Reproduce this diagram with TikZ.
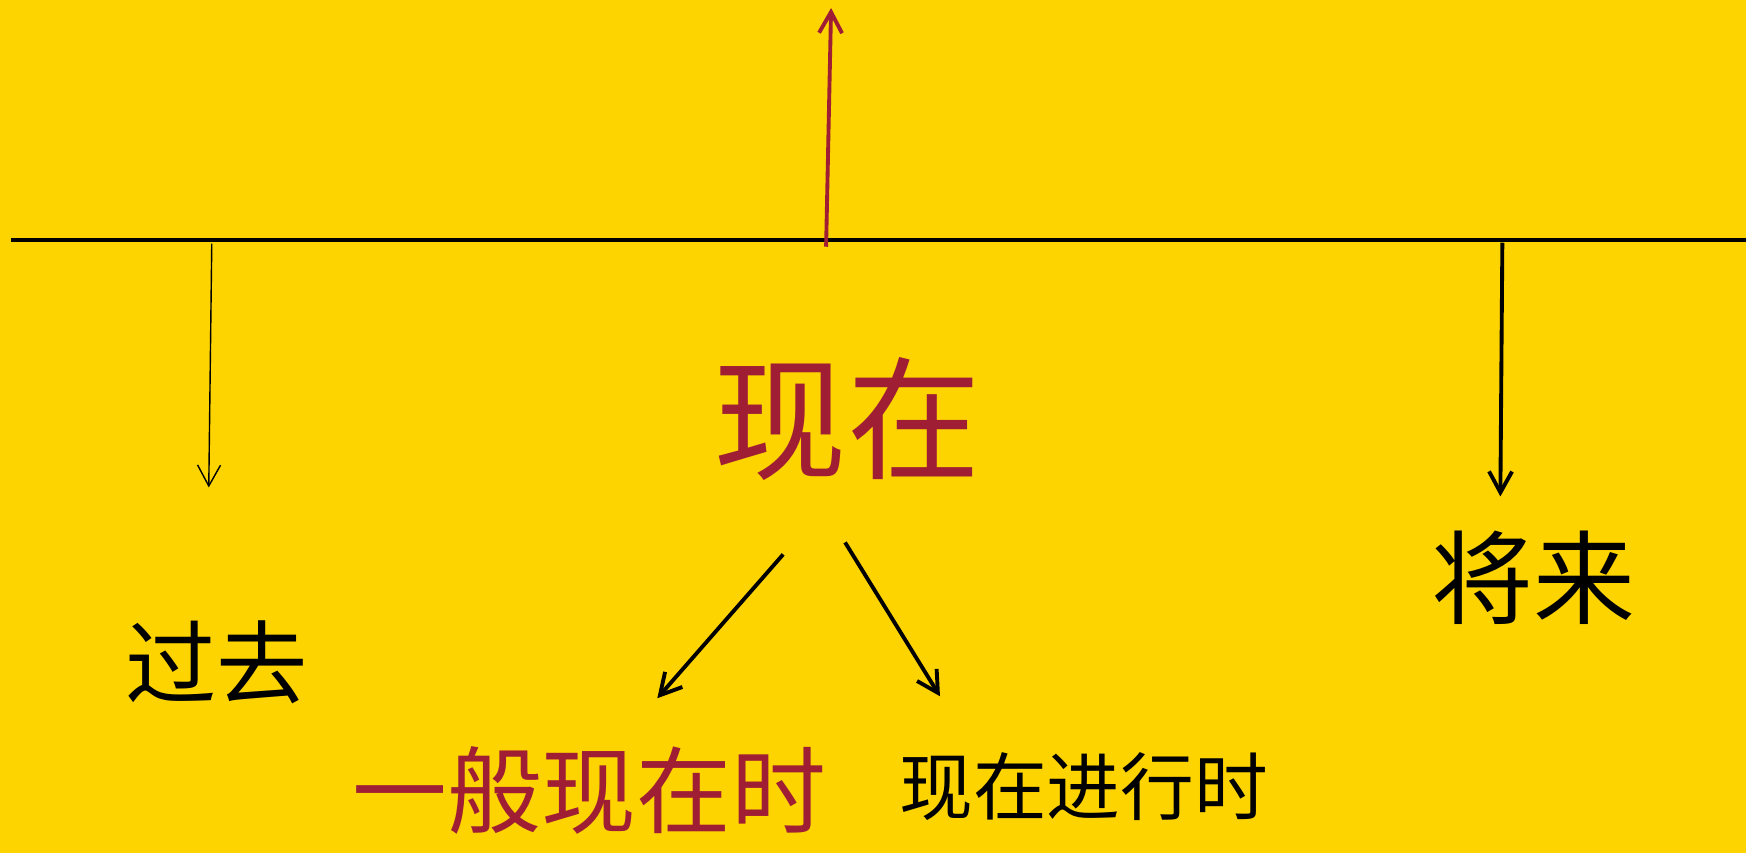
\documentclass[tikz,border=0pt]{standalone}
\usepackage{fontspec}
\newfontfamily\cjk{Noto Sans CJK SC}
\usetikzlibrary{calc}
\usetikzlibrary{arrows.meta}

\definecolor{fond}{RGB}{254,212,0}
\definecolor{rouge}{RGB}{160,30,52}

\begin{document}
\begin{tikzpicture}

\tikzset{
    mot/.style = {
    inner sep=0pt,
    font=\cjk
    }
}

\tikzstyle{fleche}=[-{Straight Barb[length=2.1mm,width=2.3mm]}, line width=1.1pt]
\tikzstyle{noir}=[mot, text=black]
\tikzstyle{titre}=[mot, text=rouge]

\fill[fond] (0,0) rectangle (17.48,-8.54);

\node (now) [titre] at (8.48,-4.19) {\fontsize{38}{40}\selectfont 现在};
\node (past) [noir] at (2.17,-6.63) {\fontsize{26}{28}\selectfont 过去};
\node (future) [noir] at (15.35,-5.78) {\fontsize{29}{31}\selectfont 将来};
\node (simple) [titre] at (5.90,-7.91) {\fontsize{27}{29}\selectfont 一般现在时};
\node (progressive) [noir] at (10.85,-7.87) {\fontsize{21}{23}\selectfont 现在进行时};

% la ligne du temps
\coordinate (t-start) at (0.11,-2.40);
\coordinate (t-end) at (17.48,-2.40);
\draw[line width=1.1pt] (t-start)--(t-end);

\coordinate (up-a) at (8.27,-2.47);
\coordinate (up-b) at (8.32,-0.08);
\draw[fleche, rouge] (up-a)--(up-b);

\coordinate (past-a) at (2.12,-2.44);
\coordinate (past-b) at (2.09,-4.88);
\draw[fleche, line width=0.4pt] (past-a)--(past-b);

\coordinate (future-a) at (15.04,-2.43);
\coordinate (future-b) at (15.02,-4.97);
\draw[fleche] (future-a)--(future-b);

\coordinate (simple-a) at (7.84,-5.55);
\coordinate (simple-b) at (6.58,-6.99);
\coordinate (progressive-a) at (8.46,-5.43);
\coordinate (progressive-b) at (9.41,-6.97);

\foreach \k in {simple,progressive}{
    \draw[fleche] (\k-a)--(\k-b);
}

\end{tikzpicture}
\end{document}
